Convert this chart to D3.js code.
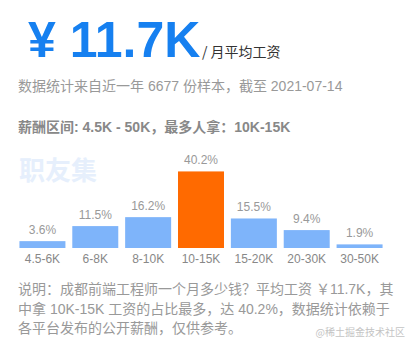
<!DOCTYPE html>
<html>
<head>
<meta charset="utf-8">
<script src="https://cdn.jsdelivr.net/npm/d3@7"></script>
<style>
  html, body { margin: 0; padding: 0; background: #fff; }
  svg { display: block; font-family: "Liberation Sans", Arial, "Noto Sans CJK SC", sans-serif; }
</style>
</head>
<body>
<svg id="chart" width="415" height="350"></svg>
<script>
// Salary distribution: monthly pay bands and their share of samples (%)
const categories = ["4.5-6K", "6-8K", "8-10K", "10-15K", "15-20K", "20-30K", "30-50K"];
const shares = [3.6, 11.5, 16.2, 40.2, 15.5, 9.4, 1.9];
const highlight = "10-15K";

const averageText = "¥ 11.7K";
const titleSuffix = "/ 月平均工资";
const sourceText = "数据统计来自近一年 6677 份样本，截至 2021-07-14";
const rangeText = "薪酬区间: 4.5K - 50K，最多人拿：10K-15K";
const noteLines = [
  "说明：成都前端工程师一个月多少钱？平均工资 ￥11.7K，其",
  "中拿 10K-15K 工资的占比最多，达 40.2%，数据统计依赖于",
  "各平台发布的公开薪酬，仅供参考。"
];

const svg = d3.select("#chart");
const cjk = '"Noto Sans CJK SC", "Liberation Sans", sans-serif';

// Headline figure
svg.append("text").attr("x", 28).attr("y", 57)
  .attr("font-size", 50).attr("font-weight", "bold").attr("fill", "#1680f0")
  .attr("font-family", '"Liberation Sans", Arial, sans-serif')
  .text(averageText);
svg.append("text").attr("x", 202).attr("y", 57)
  .attr("font-size", 14).attr("fill", "#333")
  .attr("font-family", cjk)
  .text(titleSuffix);

svg.append("text").attr("x", 18).attr("y", 91)
  .attr("font-size", 14).attr("fill", "#999")
  .text(sourceText);

svg.append("text").attr("x", 18).attr("y", 132)
  .attr("font-size", 14).attr("font-weight", "bold").attr("fill", "#888")
  .text(rangeText);

// Faint brand mark behind the bars
svg.append("text").attr("x", 19).attr("y", 180)
  .attr("font-size", 26).attr("font-weight", "bold").attr("fill", "#e6effc")
  .attr("font-family", cjk)
  .text("职友集");

// Bar chart
const x = d3.scaleBand().domain(categories).range([16, 386]).paddingInner(0.13).paddingOuter(0.065);
const y = d3.scaleLinear().domain([0, 42]).range([248, 168]);

const data = categories.map((c, i) => ({ c, v: shares[i] }));

const g = svg.append("g");
g.selectAll("rect").data(data).join("rect")
  .attr("x", d => x(d.c))
  .attr("y", d => y(d.v))
  .attr("width", x.bandwidth())
  .attr("height", d => y(0) - y(d.v))
  .attr("fill", d => d.c === highlight ? "#ff6a00" : "#7eb4fa");

g.selectAll("text.val").data(data).join("text")
  .attr("class", "val")
  .attr("x", d => x(d.c) + x.bandwidth() / 2)
  .attr("y", d => y(d.v) - 7)
  .attr("text-anchor", "middle")
  .attr("font-size", 12).attr("fill", "#999")
  .text(d => d.v.toFixed(1) + "%");

const axis = d3.axisBottom(x).tickSize(0).tickPadding(6);
const ax = svg.append("g").attr("transform", `translate(0,${y(0)})`).call(axis);
ax.select(".domain").remove();
ax.selectAll("text").attr("font-size", 12).attr("fill", "#888")
  .attr("font-family", '"Liberation Sans", Arial, sans-serif');

// Explanatory note
svg.append("g").selectAll("text").data(noteLines).join("text")
  .attr("x", 18).attr("y", (d, i) => 294 + i * 19.5)
  .attr("font-size", 14).attr("fill", "#999")
  .text(d => d);

svg.append("text").attr("x", 405).attr("y", 336)
  .attr("text-anchor", "end")
  .attr("font-size", 10).attr("fill", "#c4c4c4")
  .attr("font-family", cjk)
  .text("@稀土掘金技术社区");
</script>
</body>
</html>
